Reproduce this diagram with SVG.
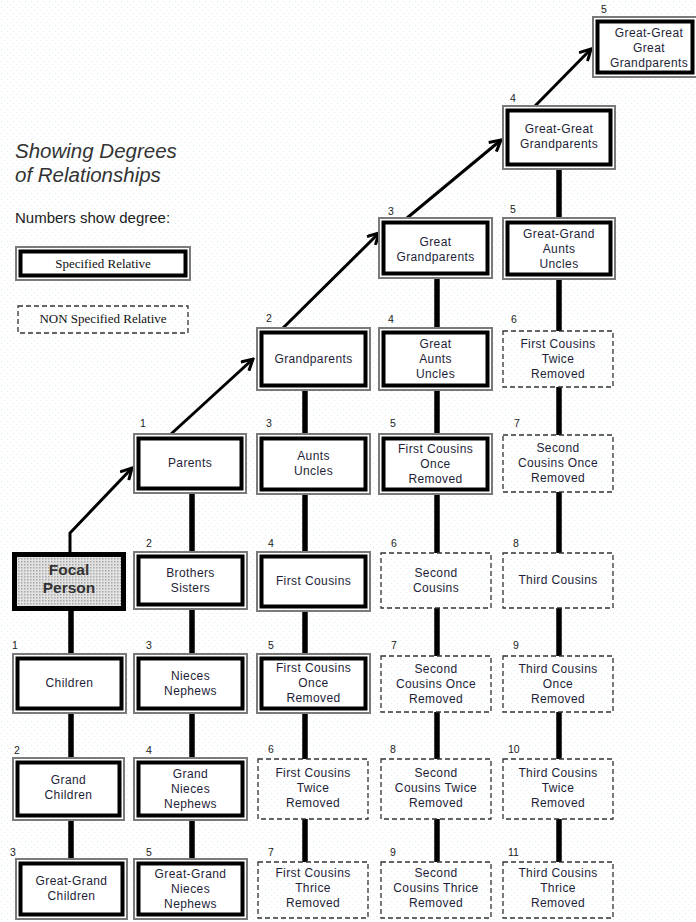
<svg xmlns="http://www.w3.org/2000/svg" width="696" height="922" viewBox="0 0 696 922">
<defs>
<pattern id="bgdots" width="6" height="6" patternUnits="userSpaceOnUse">
<rect width="6" height="6" fill="#ffffff"/>
<circle cx="1.5" cy="1.5" r="0.6" fill="#d6ecee"/>
<circle cx="4.5" cy="4.5" r="0.6" fill="#e4eef0"/>
</pattern>
<pattern id="focaldots" width="3" height="3" patternUnits="userSpaceOnUse">
<rect width="3" height="3" fill="#e2e2e2"/>
<rect x="0" y="0" width="1.5" height="1.5" fill="#a8a8a8"/>
</pattern>
<marker id="arr" viewBox="0 0 14 14" markerWidth="14" markerHeight="14" refX="12" refY="7" orient="auto" markerUnits="userSpaceOnUse">
<path d="M1,1 L12,7 L1,13" fill="none" stroke="#000" stroke-width="3" stroke-linejoin="miter"/>
</marker>
</defs>
<style>
.sg{fill:#fff;stroke:#7a7a7a;stroke-width:2}
.sb{fill:#fff;stroke:#000;stroke-width:4}
.ns{fill:none;stroke:#333;stroke-width:1.3;stroke-dasharray:5 3}
.t{font-family:"Liberation Sans",Arial,sans-serif;font-size:12px;letter-spacing:0.4px;fill:#1e1e38;text-anchor:middle}
.n{font-family:"Liberation Sans",Arial,sans-serif;font-size:10.5px;fill:#222}
.c{stroke:#000;stroke-width:5.5;fill:none}
.a{stroke:#000;stroke-width:3;fill:none;marker-end:url(#arr)}
.lg{font-family:"Liberation Serif","Times New Roman",serif;font-size:13px;fill:#111;text-anchor:middle}
</style>
<rect width="696" height="922" fill="url(#bgdots)"/>

<g id="title">
<text x="15" y="158" font-family="Liberation Sans, Arial, sans-serif" font-size="20.5" font-style="italic" fill="#333">Showing Degrees</text>
<text x="15" y="182" font-family="Liberation Sans, Arial, sans-serif" font-size="20.5" font-style="italic" fill="#333">of Relationships</text>
<text x="15" y="223" font-family="Liberation Sans, Arial, sans-serif" font-size="15" fill="#222">Numbers show degree:</text>
</g>
<g id="legend-specified">
<rect class="sg" x="16" y="247" width="174" height="33"/>
<rect class="sb" x="20.5" y="251.5" width="165" height="24"/>
<text class="lg" x="103" y="268">Specified Relative</text>
</g>
<g id="legend-non-specified">
<rect class="ns" x="18" y="306" width="170" height="27"/>
<text class="lg" x="103" y="323">NON Specified Relative</text>
</g>

<g id="connectors">
<line class="c" x1="71" y1="611" x2="71" y2="653"/>
<line class="c" x1="71" y1="714" x2="71" y2="757"/>
<line class="c" x1="71" y1="821" x2="71" y2="858"/>
<line class="c" x1="192" y1="494" x2="192" y2="551"/>
<line class="c" x1="192" y1="610" x2="192" y2="653"/>
<line class="c" x1="192" y1="714" x2="192" y2="757"/>
<line class="c" x1="192" y1="821" x2="192" y2="858"/>
<line class="c" x1="305" y1="391" x2="305" y2="433"/>
<line class="c" x1="305" y1="495" x2="305" y2="551"/>
<line class="c" x1="305" y1="612" x2="305" y2="653"/>
<line class="c" x1="305" y1="714" x2="305" y2="759"/>
<line class="c" x1="305" y1="819" x2="305" y2="862"/>
<line class="c" x1="437" y1="279" x2="437" y2="327"/>
<line class="c" x1="437" y1="391" x2="437" y2="433"/>
<line class="c" x1="437" y1="495" x2="437" y2="553"/>
<line class="c" x1="437" y1="608" x2="437" y2="656"/>
<line class="c" x1="437" y1="712" x2="437" y2="759"/>
<line class="c" x1="437" y1="819" x2="437" y2="862"/>
<line class="c" x1="559" y1="170" x2="559" y2="217"/>
<line class="c" x1="559" y1="280" x2="559" y2="331"/>
<line class="c" x1="559" y1="387" x2="559" y2="435"/>
<line class="c" x1="559" y1="492" x2="559" y2="553"/>
<line class="c" x1="559" y1="608" x2="559" y2="656"/>
<line class="c" x1="559" y1="712" x2="559" y2="759"/>
<line class="c" x1="559" y1="819" x2="559" y2="862"/>
<polyline class="a" points="70,553 70,533 132,468"/>
<line class="a" x1="171" y1="434" x2="253" y2="359"/>
<line class="a" x1="283" y1="328" x2="379" y2="233"/>
<line class="a" x1="407" y1="218" x2="501" y2="140"/>
<line class="a" x1="535" y1="106" x2="591" y2="49"/>
</g>

<g id="n-ggg-grandparents">
<rect class="sg" x="593" y="17" width="104" height="60"/>
<rect class="sb" x="597.5" y="21.5" width="95" height="51"/>
<text class="n" x="601" y="13">5</text>
<text class="t" x="649" y="37">Great-Great</text>
<text class="t" x="649" y="52">Great</text>
<text class="t" x="649" y="67">Grandparents</text>
</g>
<g id="n-gg-grandparents">
<rect class="sg" x="503" y="106" width="112" height="63"/>
<rect class="sb" x="507.5" y="110.5" width="103" height="54"/>
<text class="n" x="510" y="102">4</text>
<text class="t" x="559" y="133">Great-Great</text>
<text class="t" x="559" y="148">Grandparents</text>
</g>
<g id="n-great-grandparents">
<rect class="sg" x="379" y="218" width="113" height="60"/>
<rect class="sb" x="383.5" y="222.5" width="104" height="51"/>
<text class="n" x="388" y="215">3</text>
<text class="t" x="435.5" y="246">Great</text>
<text class="t" x="435.5" y="261">Grandparents</text>
</g>
<g id="n-gg-aunts-uncles">
<rect class="sg" x="503" y="218" width="112" height="61"/>
<rect class="sb" x="507.5" y="222.5" width="103" height="52"/>
<text class="n" x="510" y="213">5</text>
<text class="t" x="559" y="238">Great-Grand</text>
<text class="t" x="559" y="253">Aunts</text>
<text class="t" x="559" y="268">Uncles</text>
</g>
<g id="n-grandparents">
<rect class="sg" x="257" y="328" width="113" height="62"/>
<rect class="sb" x="261.5" y="332.5" width="104" height="53"/>
<text class="n" x="266" y="322">2</text>
<text class="t" x="313.5" y="363">Grandparents</text>
</g>
<g id="n-great-aunts-uncles">
<rect class="sg" x="379" y="328" width="113" height="62"/>
<rect class="sb" x="383.5" y="332.5" width="104" height="53"/>
<text class="n" x="388" y="323">4</text>
<text class="t" x="435.5" y="348">Great</text>
<text class="t" x="435.5" y="363">Aunts</text>
<text class="t" x="435.5" y="378">Uncles</text>
</g>
<g id="n-fc-twice-removed-up">
<rect class="ns" x="503" y="331" width="110" height="56"/>
<text class="n" x="511" y="323">6</text>
<text class="t" x="558" y="348">First Cousins</text>
<text class="t" x="558" y="363">Twice</text>
<text class="t" x="558" y="378">Removed</text>
</g>
<g id="n-parents">
<rect class="sg" x="134" y="434" width="112" height="59"/>
<rect class="sb" x="138.5" y="438.5" width="103" height="50"/>
<text class="n" x="140" y="427">1</text>
<text class="t" x="190" y="467">Parents</text>
</g>
<g id="n-aunts-uncles">
<rect class="sg" x="257" y="434" width="113" height="60"/>
<rect class="sb" x="261.5" y="438.5" width="104" height="51"/>
<text class="n" x="266" y="427">3</text>
<text class="t" x="313.5" y="460">Aunts</text>
<text class="t" x="313.5" y="475">Uncles</text>
</g>
<g id="n-fc-once-removed-up">
<rect class="sg" x="379" y="434" width="113" height="60"/>
<rect class="sb" x="383.5" y="438.5" width="104" height="51"/>
<text class="n" x="390" y="427">5</text>
<text class="t" x="435.5" y="453">First Cousins</text>
<text class="t" x="435.5" y="468">Once</text>
<text class="t" x="435.5" y="483">Removed</text>
</g>
<g id="n-sc-once-removed-up">
<rect class="ns" x="503" y="435" width="110" height="57"/>
<text class="n" x="514" y="427">7</text>
<text class="t" x="558" y="452">Second</text>
<text class="t" x="558" y="467">Cousins Once</text>
<text class="t" x="558" y="482">Removed</text>
</g>
<g id="n-focal-person">
<rect x="14.5" y="554.5" width="109" height="54" fill="url(#focaldots)" stroke="#000" stroke-width="5"/>
<text x="69" y="575" font-family="Liberation Sans, Arial, sans-serif" font-size="15.5" font-weight="bold" fill="#333" text-anchor="middle">Focal</text>
<text x="69" y="593" font-family="Liberation Sans, Arial, sans-serif" font-size="15.5" font-weight="bold" fill="#333" text-anchor="middle">Person</text>
</g>
<g id="n-brothers-sisters">
<rect class="sg" x="134" y="552" width="113" height="57"/>
<rect class="sb" x="138.5" y="556.5" width="104" height="48"/>
<text class="n" x="146" y="547">2</text>
<text class="t" x="190.5" y="577">Brothers</text>
<text class="t" x="190.5" y="592">Sisters</text>
</g>
<g id="n-first-cousins">
<rect class="sg" x="257" y="552" width="113" height="59"/>
<rect class="sb" x="261.5" y="556.5" width="104" height="50"/>
<text class="n" x="268" y="547">4</text>
<text class="t" x="313.5" y="585">First Cousins</text>
</g>
<g id="n-second-cousins">
<rect class="ns" x="381" y="553" width="110" height="55"/>
<text class="n" x="391" y="547">6</text>
<text class="t" x="436" y="577">Second</text>
<text class="t" x="436" y="592">Cousins</text>
</g>
<g id="n-third-cousins">
<rect class="ns" x="503" y="553" width="110" height="55"/>
<text class="n" x="513" y="547">8</text>
<text class="t" x="558" y="584">Third Cousins</text>
</g>
<g id="n-children">
<rect class="sg" x="13" y="654" width="113" height="59"/>
<rect class="sb" x="17.5" y="658.5" width="104" height="50"/>
<text class="n" x="12" y="649">1</text>
<text class="t" x="69.5" y="687">Children</text>
</g>
<g id="n-nieces-nephews">
<rect class="sg" x="134" y="654" width="113" height="59"/>
<rect class="sb" x="138.5" y="658.5" width="104" height="50"/>
<text class="n" x="146" y="649">3</text>
<text class="t" x="190.5" y="680">Nieces</text>
<text class="t" x="190.5" y="695">Nephews</text>
</g>
<g id="n-fc-once-removed-down">
<rect class="sg" x="257" y="654" width="113" height="59"/>
<rect class="sb" x="261.5" y="658.5" width="104" height="50"/>
<text class="n" x="268" y="649">5</text>
<text class="t" x="313.5" y="672">First Cousins</text>
<text class="t" x="313.5" y="687">Once</text>
<text class="t" x="313.5" y="702">Removed</text>
</g>
<g id="n-sc-once-removed-down">
<rect class="ns" x="381" y="656" width="110" height="56"/>
<text class="n" x="391" y="649">7</text>
<text class="t" x="436" y="673">Second</text>
<text class="t" x="436" y="688">Cousins Once</text>
<text class="t" x="436" y="703">Removed</text>
</g>
<g id="n-tc-once-removed">
<rect class="ns" x="503" y="656" width="110" height="56"/>
<text class="n" x="513" y="649">9</text>
<text class="t" x="558" y="673">Third Cousins</text>
<text class="t" x="558" y="688">Once</text>
<text class="t" x="558" y="703">Removed</text>
</g>
<g id="n-grand-children">
<rect class="sg" x="13" y="758" width="111" height="62"/>
<rect class="sb" x="17.5" y="762.5" width="102" height="53"/>
<text class="n" x="14" y="754">2</text>
<text class="t" x="68.5" y="784">Grand</text>
<text class="t" x="68.5" y="799">Children</text>
</g>
<g id="n-grand-nieces-nephews">
<rect class="sg" x="134" y="758" width="113" height="62"/>
<rect class="sb" x="138.5" y="762.5" width="104" height="53"/>
<text class="n" x="146" y="754">4</text>
<text class="t" x="190.5" y="778">Grand</text>
<text class="t" x="190.5" y="793">Nieces</text>
<text class="t" x="190.5" y="808">Nephews</text>
</g>
<g id="n-fc-twice-removed-down">
<rect class="ns" x="258" y="759" width="110" height="60"/>
<text class="n" x="268" y="753">6</text>
<text class="t" x="313" y="777">First Cousins</text>
<text class="t" x="313" y="792">Twice</text>
<text class="t" x="313" y="807">Removed</text>
</g>
<g id="n-sc-twice-removed">
<rect class="ns" x="381" y="759" width="110" height="60"/>
<text class="n" x="390" y="753">8</text>
<text class="t" x="436" y="777">Second</text>
<text class="t" x="436" y="792">Cousins Twice</text>
<text class="t" x="436" y="807">Removed</text>
</g>
<g id="n-tc-twice-removed">
<rect class="ns" x="503" y="759" width="110" height="60"/>
<text class="n" x="508" y="753">10</text>
<text class="t" x="558" y="777">Third Cousins</text>
<text class="t" x="558" y="792">Twice</text>
<text class="t" x="558" y="807">Removed</text>
</g>
<g id="n-gg-children">
<rect class="sg" x="16" y="859" width="111" height="60"/>
<rect class="sb" x="20.5" y="863.5" width="102" height="51"/>
<text class="n" x="10" y="856">3</text>
<text class="t" x="71.5" y="885">Great-Grand</text>
<text class="t" x="71.5" y="900">Children</text>
</g>
<g id="n-gg-nieces-nephews">
<rect class="sg" x="134" y="859" width="113" height="60"/>
<rect class="sb" x="138.5" y="863.5" width="104" height="51"/>
<text class="n" x="146" y="856">5</text>
<text class="t" x="190.5" y="878">Great-Grand</text>
<text class="t" x="190.5" y="893">Nieces</text>
<text class="t" x="190.5" y="908">Nephews</text>
</g>
<g id="n-fc-thrice-removed">
<rect class="ns" x="258" y="862" width="110" height="56"/>
<text class="n" x="268" y="856">7</text>
<text class="t" x="313" y="877">First Cousins</text>
<text class="t" x="313" y="892">Thrice</text>
<text class="t" x="313" y="907">Removed</text>
</g>
<g id="n-sc-thrice-removed">
<rect class="ns" x="381" y="862" width="110" height="56"/>
<text class="n" x="390" y="856">9</text>
<text class="t" x="436" y="877">Second</text>
<text class="t" x="436" y="892">Cousins Thrice</text>
<text class="t" x="436" y="907">Removed</text>
</g>
<g id="n-tc-thrice-removed">
<rect class="ns" x="503" y="862" width="110" height="56"/>
<text class="n" x="508" y="856">11</text>
<text class="t" x="558" y="877">Third Cousins</text>
<text class="t" x="558" y="892">Thrice</text>
<text class="t" x="558" y="907">Removed</text>
</g>
</svg>
